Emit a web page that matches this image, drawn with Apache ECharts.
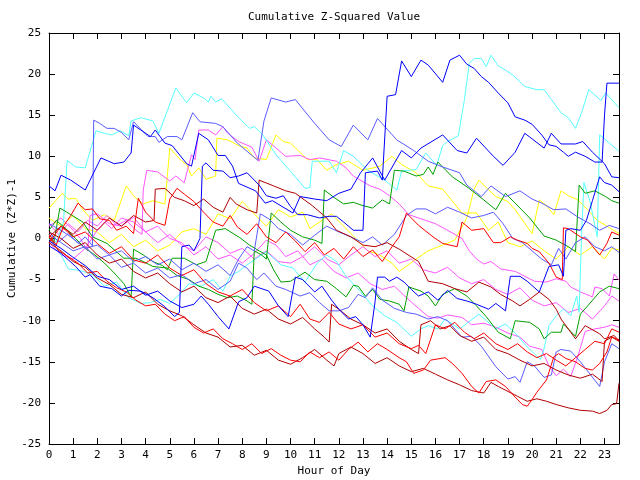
<!DOCTYPE html>
<html><head><meta charset="utf-8">
<script src="https://cdn.jsdelivr.net/npm/echarts@6/dist/echarts.min.js"></script>
<style>html,body{margin:0;padding:0;background:#fff}#c{width:640px;height:480px}</style>
</head><body><div id="c"></div>
<script>
// ---- data: [hour, cumulative (Z*Z)-1] ----
var xTicks = [0,1,2,3,4,5,6,7,8,9,10,11,12,13,14,15,16,17,18,19,20,21,22,23];
var yTicks = [-25,-20,-15,-10,-5,0,5,10,15,20,25];

var cyanA = [[0,0.5],[0.3,-0.5],[0.6,2],[0.75,9.5],[1.1,8.7],[1.5,8.6],[1.95,13.1],[2.3,12.8],[2.6,12.6],[2.95,13.1],[3.3,12.5],[3.4,14.3],[3.8,14.7],[4.3,14.3],[4.55,12.8],[5.25,18.3],[5.7,16.5],[6.0,17.7],[6.4,17.1],[6.6,16.6],[6.7,17.3],[6.9,16.6],[7.15,17.0],[7.45,16.0],[7.85,14.7],[8.3,13.4],[8.5,13.6],[8.8,12.8],[9.4,10.2],[10.05,8.0],[10.6,6.1],[10.8,6.2],[10.9,9.4],[11.6,9.4],[11.9,8.0],[12.2,10.7],[12.6,10.0],[13.2,8.3],[13.9,7.1],[14.4,5.9],[14.6,8.2],[15.2,8.4],[15.6,10.4],[16.05,8.9],[16.3,11.3],[16.5,11.8],[16.95,12.5],[17.2,16.9],[17.4,21.3],[17.6,21.9],[17.9,21.9],[18.1,20.9],[18.3,22.3],[18.6,21.0],[18.95,20.4],[19.2,19.9],[19.7,18.5],[20.2,18.1],[20.5,18.1],[20.8,16.9],[21.2,15.3],[21.5,14.7],[21.8,13.4],[22.05,15.3],[22.35,18.1],[22.85,16.8],[23.05,17.7],[23.6,15.9]];
var cyanB = [[0,0],[0.5,-2],[0.8,-3.7],[1.3,-3.9],[1.8,-4.4],[2.3,-5.8],[2.8,-5.3],[3.3,-7.2],[3.8,-7.9],[4.2,-7.8],[4.6,-7.4],[5.0,-7.9],[5.4,-6.8],[5.8,-5.5],[6.3,-5.8],[6.8,-5.0],[7.2,-6.4],[7.5,-4.6],[7.85,-4.0],[8.2,-3.2],[8.6,-2.4],[9.0,-1.6],[9.6,-3.2],[10.1,-3.6],[10.6,-5.3],[11.1,-3.0],[11.5,-2.0],[11.9,-2.8],[12.3,-4.6],[12.9,-6.5],[13.4,-8.2],[13.9,-9.4],[14.4,-10.2],[15.0,-11.9],[15.4,-11.0],[15.7,-10.6],[16.1,-11.0],[16.4,-9.8],[17.0,-11.0],[17.8,-9.2],[18.5,-11.0],[18.9,-10.4],[19.3,-11.5],[19.8,-13.2],[20.35,-14.7],[20.5,-13.4],[20.7,-10.6],[21.0,-9.4],[21.3,-8.6],[21.6,-9.4],[21.85,-7.0],[21.95,-9.0],[22.05,0.5],[22.15,6.8],[22.4,4.5],[22.7,0.2],[22.8,12.6],[23.05,12.0],[23.6,10.6]];
var blueA = [[0,6.4],[0.25,5.8],[0.5,7.7],[0.9,7.1],[1.5,5.9],[2.15,9.8],[2.7,9.1],[3.1,9.3],[3.4,10.4],[3.5,13.8],[3.8,13.2],[4.2,12.4],[4.4,13.2],[4.8,11.6],[5.1,11.3],[5.7,9.1],[5.9,8.8],[6.2,12.8],[6.6,12.0],[7.0,10.1],[7.3,10.1],[7.6,8.8],[7.85,6.7],[8.55,5.8],[8.95,4.3],[9.25,4.6],[10.1,3.1],[10.4,5.1],[11.0,4.8],[11.5,4.6],[12.0,5.5],[12.5,6.0],[12.9,8.0],[13.4,9.8],[13.9,7.1],[14.6,10.7],[15.0,9.8],[15.4,11.0],[16.3,12.6],[16.9,10.7],[17.3,10.4],[17.7,12.2],[18.4,10.0],[18.8,8.9],[19.3,10.5],[19.7,12.8],[20.5,11.0],[20.8,12.8],[21.2,11.5],[21.8,11.5],[22.1,11.8],[22.5,10.5],[23.0,9.1],[23.3,7.5],[23.6,7.4]];
var blueB = [[0,-0.9],[0.5,-1.8],[1.1,-3.4],[1.5,-4.7],[1.7,-4.4],[2.1,-5.8],[2.6,-6.1],[3.0,-7.0],[3.3,-6.3],[3.8,-6.4],[4.3,-7.2],[4.8,-8.3],[5.2,-9.5],[5.4,-9.0],[5.5,-1.0],[5.8,-0.8],[6.0,-1.5],[6.25,0.0],[6.35,8.8],[6.5,9.2],[6.8,8.3],[7.2,8.2],[7.5,7.4],[7.85,7.6],[8.2,8.0],[8.7,6.5],[9.0,5.2],[9.4,4.9],[9.7,5.2],[10.0,3.9],[10.3,2.9],[10.7,2.9],[11.2,2.5],[11.6,2.7],[11.9,2.7],[12.2,2.0],[12.6,1.0],[13.0,1.0],[13.1,8.0],[13.6,8.2],[13.8,7.1],[14.0,17.3],[14.35,17.5],[14.6,21.6],[15.0,19.7],[15.4,21.7],[15.7,21.1],[16.3,19.0],[16.6,21.7],[17.0,22.3],[17.3,21.2],[17.6,20.7],[17.9,19.7],[18.2,19.0],[18.6,17.7],[19.0,16.5],[19.3,14.8],[19.7,14.4],[20.0,13.9],[20.4,12.6],[20.7,11.4],[21.0,11.2],[21.3,10.5],[21.5,10.0],[21.8,10.5],[22.2,10.0],[22.6,9.3],[22.9,9.3],[23.0,15.0],[23.1,18.9],[23.6,18.9]];
var blueC = [[0,-0.3],[0.5,-1.2],[1.0,-2.3],[1.5,-3.3],[2.0,-4.6],[2.5,-5.0],[3.0,-6.2],[3.5,-5.8],[4.0,-6.9],[4.5,-6.4],[5.0,-7.6],[5.5,-8.4],[6.0,-8.0],[6.3,-7.0],[6.6,-8.0],[7.0,-9.5],[7.45,-11.0],[7.85,-7.7],[8.2,-7.2],[8.5,-5.8],[9.1,-6.4],[9.5,-8.2],[9.9,-9.5],[10.2,-4.7],[10.5,-5.0],[11.0,-6.5],[11.3,-5.8],[11.7,-7.5],[12.0,-8.6],[12.4,-9.8],[12.7,-9.5],[13.0,-10.5],[13.3,-12.0],[13.5,-7.7],[13.6,-4.7],[13.9,-4.7],[14.1,-5.2],[14.4,-4.7],[14.7,-5.3],[15.0,-6.2],[15.3,-7.0],[15.7,-6.5],[16.1,-7.5],[16.5,-6.3],[16.9,-7.3],[17.3,-7.6],[17.7,-8.0],[18.2,-8.6],[18.5,-7.9],[18.9,-8.8],[19.1,-4.6],[19.5,-4.6],[19.8,-5.2],[20.3,-6.5],[20.7,-3.4],[21.1,-3.2],[21.3,-4.6],[21.4,1.0],[21.6,1.2],[22.0,1.0],[22.25,2.2],[22.5,4.6],[22.8,7.5],[23.0,6.8],[23.3,6.5],[23.6,5.7]];
var mblueA = [[0,0.8],[0.4,-0.4],[0.8,0.6],[1.2,-0.6],[1.5,0.2],[1.8,-0.9],[1.85,14.4],[2.1,14.0],[2.4,13.4],[2.7,13.4],[3.0,12.9],[3.3,12.0],[3.5,14.2],[4.1,12.4],[4.4,12.4],[4.55,11.7],[4.9,12.4],[5.3,12.4],[5.5,12.0],[5.95,15.3],[6.25,14.2],[6.9,14.0],[7.2,13.6],[7.8,11.6],[8.65,9.5],[8.9,14.3],[9.2,17.1],[9.8,16.6],[10.2,16.9],[11.0,14.0],[11.6,12.0],[12.1,11.2],[12.6,13.8],[13.2,12.0],[13.6,14.6],[14.4,12.0],[15.1,10.7],[15.7,9.4],[16.3,8.7],[17.0,8.0],[17.3,6.5],[17.9,5.1],[18.3,6.4],[18.9,5.1],[19.5,5.8],[20.0,4.8],[20.4,4.3],[20.9,3.5],[21.4,3.6],[21.9,2.6],[22.4,1.8],[22.8,1.0],[23.2,1.6],[23.6,1.2]];
var mblueB = [[0,1.8],[0.5,1.0],[1.0,0.0],[1.5,-1.2],[2.0,-0.8],[2.5,-2.0],[3.0,-1.5],[3.5,-2.8],[4.0,-2.2],[4.5,-3.2],[5.0,-2.5],[5.5,-3.8],[6.0,-3.0],[6.5,-4.0],[7.0,-3.2],[7.5,-4.5],[7.85,-2.5],[8.2,-1.0],[8.5,-1.5],[8.75,3.0],[9.1,2.4],[9.5,1.2],[10.0,0.5],[10.5,-0.8],[11.0,0.4],[11.5,1.5],[12.0,0.8],[12.5,0.2],[13.0,-0.5],[13.4,0.2],[13.8,-0.8],[14.3,0.5],[14.8,2.8],[15.2,3.6],[15.6,3.6],[16.0,3.0],[16.5,3.8],[17.0,3.2],[17.5,2.5],[18.0,2.8],[18.4,3.2],[18.8,1.8],[19.2,0.0],[19.6,-0.5],[20.0,-1.5],[20.4,-2.5],[20.8,-3.2],[21.1,-1.2],[21.4,-2.5],[21.8,-0.5],[22.2,0.2],[22.6,-1.0],[23.0,-1.5],[23.3,-1.0],[23.6,-1.7]];
var mblueC = [[0,0.5],[0.5,-0.5],[1.0,-1.5],[1.5,-1.0],[2.0,-2.5],[2.5,-2.0],[3.0,-3.5],[3.5,-3.0],[4.0,-4.2],[4.5,-3.6],[5.0,-4.8],[5.5,-4.4],[6.0,-5.5],[6.5,-5.0],[7.0,-6.2],[7.5,-5.2],[7.85,-3.0],[8.2,-3.6],[8.6,-5.0],[8.9,-4.2],[9.4,-5.8],[9.8,-6.2],[10.4,-7.0],[10.8,-6.6],[11.2,-7.8],[11.6,-8.8],[12.0,-8.8],[12.4,-8.4],[12.8,-6.8],[13.1,-7.2],[13.4,-6.0],[13.8,-7.5],[14.3,-8.5],[14.8,-9.0],[15.2,-9.2],[15.7,-9.8],[16.1,-9.5],[16.5,-10.0],[17.1,-12.0],[17.5,-11.9],[17.9,-13.1],[18.5,-15.6],[19.0,-17.1],[19.3,-16.8],[19.5,-17.5],[19.8,-15.0],[20.1,-15.5],[20.5,-16.9],[20.8,-16.6],[21.0,-13.8],[21.2,-13.5],[21.6,-13.7],[22.0,-15.0],[22.4,-16.5],[22.8,-18.0],[23.0,-15.0],[23.3,-12.8],[23.6,-13.4]];
var yellowA = [[0,3.7],[0.55,5.5],[0.8,4.8],[1.1,4.9],[1.4,3.5],[1.8,2.2],[2.3,2.9],[2.7,2.2],[3.2,6.4],[3.5,5.2],[3.9,4.2],[4.3,4.6],[4.8,4.2],[5.0,11.0],[5.25,10.2],[5.5,9.4],[5.7,9.0],[5.9,7.6],[6.2,8.6],[6.5,7.2],[6.9,7.6],[6.95,12.2],[7.4,12.0],[7.85,11.3],[8.2,11.0],[8.5,9.8],[9.0,9.6],[9.4,12.6],[9.7,11.8],[10.0,11.6],[10.7,9.6],[11.1,9.6],[11.5,8.3],[11.9,9.0],[12.4,9.4],[13.0,8.3],[13.3,8.5],[13.7,8.8],[14.2,10.0],[14.6,9.0],[15.2,8.0],[15.7,6.4],[16.3,6.0],[17.1,3.1],[17.7,3.1],[18.2,1.0],[18.6,2.0],[19.0,-0.5],[19.5,-1.0],[20.0,-0.3],[20.5,-1.5],[21.0,-2.5],[21.5,-1.0],[22.0,-2.0],[22.5,-1.0],[23.0,-2.5],[23.3,-1.2],[23.6,-1.4]];
var yellowB = [[0,2.5],[0.5,1.5],[1.0,2.8],[1.5,1.2],[2.0,0.8],[2.5,-0.5],[3.0,0.5],[3.5,-1.0],[4.0,-0.2],[4.5,-1.5],[5.0,-0.8],[5.5,0.8],[6.0,1.2],[6.5,0.5],[7.0,3.0],[7.5,2.4],[8.0,4.5],[8.5,3.0],[9.0,1.5],[9.5,3.5],[10.0,2.6],[10.5,3.2],[10.8,1.2],[11.2,2.0],[11.7,3.0],[12.2,1.5],[12.7,0.0],[13.2,-1.5],[13.7,-2.0],[14.2,-3.0],[14.5,-4.0],[15.2,-2.5],[15.7,-1.5],[16.3,-0.8],[16.8,-0.2],[17.3,2.5],[17.6,6.0],[17.8,7.1],[18.1,6.2],[18.5,5.1],[19.0,4.5],[19.3,3.5],[19.9,1.0],[20.0,0.6],[20.3,4.7],[20.6,4.0],[20.9,2.9],[21.2,5.8],[21.5,5.2],[21.9,4.7],[22.3,3.5],[22.7,2.2],[23.1,1.5],[23.6,0.6]];
var magentaA = [[0,1.8],[0.4,0.5],[0.8,1.8],[1.2,0.8],[1.6,2.2],[2.0,1.5],[2.4,2.8],[2.8,1.6],[3.2,2.2],[3.6,1.0],[3.85,0.5],[3.9,5.9],[4.05,8.3],[4.5,8.1],[5.0,7.0],[5.25,7.6],[5.6,6.8],[5.9,10.2],[6.05,9.6],[6.2,13.2],[6.6,13.2],[6.9,12.6],[7.2,13.6],[7.4,12.8],[7.85,11.8],[8.4,11.1],[8.7,9.4],[9.0,12.0],[9.4,11.0],[9.8,10.0],[10.4,10.1],[10.8,9.6],[11.2,9.8],[11.9,9.4],[12.3,8.6],[12.6,7.6],[13.3,6.4],[13.7,6.0],[14.1,5.2],[14.5,4.2],[14.9,2.9],[15.6,2.2],[16.0,1.8],[16.5,1.0],[17.1,0.0],[17.4,-1.5],[17.7,-2.5],[18.0,-3.1],[18.3,-2.8],[18.7,-3.7],[19.3,-4.0],[19.7,-4.6],[20.1,-5.2],[20.6,-5.3],[21.0,-4.9],[21.4,-5.2],[21.6,-5.9],[22.0,-6.5],[22.5,-7.1],[22.6,-5.9],[22.9,-6.1],[23.2,-7.0],[23.4,-4.3],[23.6,-5.1]];
var magentaB = [[0,1.5],[0.5,2.5],[1.0,1.0],[1.3,0.0],[1.6,-1.5],[1.7,2.8],[2.0,3.0],[2.5,1.8],[3.0,1.5],[3.5,2.6],[4.0,0.8],[4.5,1.5],[5.0,0.0],[5.5,-0.5],[6.0,-2.0],[6.5,-1.0],[7.0,-2.5],[7.5,-2.0],[8.0,-3.0],[8.5,-1.8],[9.0,-0.2],[9.4,-0.8],[9.8,-2.2],[10.3,-1.5],[10.8,-3.2],[11.3,-2.5],[11.8,-4.0],[12.3,-4.8],[12.8,-4.2],[13.3,-5.5],[13.8,-6.2],[14.3,-5.8],[14.8,-7.2],[15.3,-8.5],[15.7,-9.5],[16.1,-9.7],[16.5,-9.3],[17.1,-9.6],[17.5,-10.5],[18.0,-10.3],[18.5,-10.8],[19.0,-11.5],[19.5,-12.0],[19.9,-13.1],[20.4,-13.5],[20.7,-15.5],[21.0,-16.7],[21.3,-15.9],[21.6,-16.8],[21.9,-14.3],[22.2,-11.3],[22.6,-11.0],[23.0,-10.8],[23.3,-10.5],[23.6,-10.8]];
var magentaC = [[0,-0.5],[0.5,-2.0],[1.0,-2.5],[1.5,-1.2],[2.0,1.0],[2.3,2.0],[2.6,1.2],[3.0,2.5],[3.5,2.0],[4.0,0.8],[4.5,-0.5],[5.0,0.5],[5.5,-0.8],[6.0,-1.5],[6.5,0.2],[7.0,-0.5],[7.5,-1.8],[8.0,-1.2],[8.5,-2.5],[9.0,-1.5],[9.5,-2.8],[10.0,-3.0],[10.5,-2.2],[11.0,-1.0],[11.5,-2.5],[12.0,-3.2],[12.5,-2.0],[13.0,-1.0],[13.5,-2.2],[14.0,-1.5],[14.5,-3.0],[15.0,-2.5],[15.5,-3.8],[16.0,-4.2],[16.5,-3.5],[17.0,-4.8],[17.5,-5.5],[18.0,-5.0],[18.5,-6.2],[19.0,-6.8],[19.5,-6.0],[20.0,-7.5],[20.5,-8.2],[21.0,-7.8],[21.5,-9.0],[22.0,-8.5],[22.5,-9.8],[23.0,-8.2],[23.3,-7.0],[23.6,-7.6]];
var redA = [[0,0.5],[0.3,-0.8],[0.6,1.5],[0.9,2.8],[1.2,4.3],[1.5,3.5],[1.8,3.6],[2.1,2.4],[2.5,2.2],[2.8,1.0],[3.2,1.5],[3.5,0.6],[3.7,4.9],[4.0,3.2],[4.4,2.0],[4.8,1.6],[5.0,4.8],[5.3,6.1],[5.6,5.4],[6.0,4.5],[6.4,3.2],[6.8,2.0],[7.2,1.5],[7.5,2.8],[7.8,1.4],[8.2,0.5],[8.6,1.8],[9.0,0.2],[9.4,-0.5],[9.8,0.8],[10.2,-0.3],[10.6,-1.6],[11.0,-0.5],[11.4,-2.0],[11.8,-1.2],[12.2,-2.5],[12.6,-1.0],[13.0,-2.2],[13.4,-1.4],[13.8,-2.8],[14.2,-1.0],[14.5,0.2],[14.8,3.1],[15.3,1.6],[15.9,0.2],[16.3,-0.6],[16.9,-1.0],[17.1,2.0],[17.5,1.0],[18.0,1.2],[18.4,-0.5],[18.7,-0.5],[19.1,0.2],[19.4,-0.2],[19.8,-0.6],[20.0,-1.2],[20.3,-1.6],[20.7,-3.0],[21.0,-4.7],[21.25,-5.0],[21.3,1.3],[21.5,1.2],[22.0,0.2],[22.3,-0.2],[22.8,-2.0],[23.1,-0.6],[23.3,0.8],[23.6,0.4]];
var redB = [[0,-0.5],[0.5,1.5],[1.0,0.2],[1.5,0.8],[2.0,-0.6],[2.5,-1.8],[3.0,-1.0],[3.5,-2.6],[4.0,-3.0],[4.5,-2.0],[5.0,-3.6],[5.5,-4.5],[6.0,-3.8],[6.5,-5.5],[7.0,-6.5],[7.5,-7.0],[8.0,-6.2],[8.5,-7.8],[9.0,-8.8],[9.5,-8.2],[10.0,-9.5],[10.4,-8.0],[10.8,-9.8],[11.2,-10.2],[11.6,-9.0],[12.0,-10.4],[12.5,-11.0],[13.0,-10.5],[13.5,-12.0],[14.0,-11.5],[14.5,-12.8],[15.0,-13.4],[15.3,-13.0],[15.6,-14.0],[16.0,-10.5],[16.4,-11.0],[16.8,-10.2],[17.2,-11.4],[17.6,-12.2],[18.0,-11.5],[18.5,-12.8],[19.0,-13.5],[19.4,-12.8],[19.8,-13.8],[20.2,-14.5],[20.6,-14.0],[21.0,-14.8],[21.4,-15.5],[21.8,-14.5],[22.2,-13.5],[22.6,-12.5],[23.0,-12.8],[23.3,-11.0],[23.6,-11.4]];
var redC = [[0,0.2],[0.4,-1.5],[0.8,-2.2],[1.2,-3.0],[1.6,-4.2],[2.0,-4.0],[2.4,-5.2],[2.8,-6.0],[3.2,-6.5],[3.6,-7.5],[4.0,-8.2],[4.4,-8.0],[4.8,-9.2],[5.2,-10.0],[5.6,-9.5],[6.0,-10.8],[6.4,-11.5],[6.8,-11.0],[7.2,-12.2],[7.6,-12.8],[8.0,-13.5],[8.4,-12.8],[8.8,-14.0],[9.2,-13.4],[9.6,-14.2],[10.0,-14.8],[10.4,-15.0],[10.8,-13.8],[11.2,-14.5],[11.6,-13.8],[12.0,-14.8],[12.4,-13.5],[12.8,-12.6],[13.2,-13.8],[13.6,-12.8],[14.0,-13.5],[14.5,-14.5],[14.8,-15.0],[15.1,-16.4],[15.5,-16.0],[15.8,-14.8],[16.4,-14.5],[16.7,-15.2],[17.1,-16.4],[17.5,-18.0],[17.8,-18.8],[18.1,-17.4],[18.5,-17.2],[18.9,-18.0],[19.3,-19.3],[19.6,-20.2],[19.8,-20.4],[20.0,-19.6],[20.2,-18.7],[20.6,-17.2],[20.9,-14.4],[21.1,-14.0],[21.4,-14.6],[21.8,-15.0],[22.2,-15.8],[22.5,-16.0],[22.8,-15.2],[23.1,-13.8],[23.3,-12.0],[23.6,-12.3]];
var darkredA = [[0,-0.5],[0.5,-1.5],[1.0,-2.8],[1.5,-3.5],[2.0,-4.8],[2.5,-5.6],[3.0,-6.8],[3.5,-7.2],[4.0,-6.5],[4.5,-8.0],[5.0,-8.8],[5.5,-9.4],[6.0,-10.5],[6.5,-11.5],[7.0,-12.0],[7.5,-13.2],[8.0,-13.0],[8.5,-14.2],[9.0,-13.6],[9.5,-14.8],[10.0,-15.3],[10.5,-14.5],[11.0,-13.5],[11.5,-14.8],[11.8,-15.5],[12.0,-14.0],[12.5,-13.2],[13.0,-14.0],[13.5,-15.2],[14.0,-14.5],[14.5,-15.5],[15.0,-16.2],[15.5,-15.8],[16.0,-16.5],[16.5,-17.2],[17.0,-17.8],[17.5,-18.5],[18.0,-18.8],[18.3,-17.5],[18.6,-18.0],[19.0,-18.6],[19.4,-19.2],[19.8,-19.8],[20.2,-19.5],[20.6,-19.8],[21.0,-20.2],[21.5,-20.6],[22.0,-20.9],[22.5,-21.0],[22.8,-21.3],[23.1,-20.9],[23.3,-20.2],[23.5,-20.1],[23.6,-17.6]];
var darkredB = [[0,0.8],[0.5,0.0],[1.0,-1.2],[1.5,-0.5],[2.0,-2.0],[2.5,-3.0],[3.0,-2.5],[3.5,-4.0],[4.0,-4.8],[4.5,-4.2],[5.0,-5.5],[5.5,-6.5],[6.0,-5.8],[6.5,-7.2],[7.0,-7.8],[7.5,-7.0],[8.0,-8.5],[8.5,-9.2],[9.0,-8.6],[9.5,-9.8],[10.0,-10.4],[10.5,-9.6],[11.0,-11.0],[11.4,-12.0],[11.6,-12.6],[11.7,-8.0],[12.0,-8.6],[12.5,-9.8],[13.0,-10.5],[13.5,-11.5],[14.0,-11.0],[14.5,-12.5],[15.0,-13.5],[15.3,-14.0],[15.4,-10.5],[15.8,-10.0],[16.2,-11.0],[16.6,-10.6],[17.0,-11.8],[17.5,-12.5],[18.0,-12.0],[18.5,-13.5],[19.0,-14.0],[19.5,-14.8],[20.0,-15.5],[20.5,-15.2],[21.0,-16.0],[21.5,-16.6],[22.0,-17.0],[22.5,-16.5],[22.9,-17.4],[23.0,-12.5],[23.3,-12.0],[23.6,-12.5]];
var darkredC = [[0,0.2],[0.5,1.5],[1.0,0.5],[1.5,2.0],[2.0,1.0],[2.5,2.5],[3.0,1.5],[3.5,2.8],[4.0,2.0],[4.35,2.2],[4.4,6.0],[4.8,6.1],[5.2,5.0],[5.6,4.6],[6.0,4.0],[6.4,4.8],[6.8,3.8],[7.2,3.2],[7.5,5.0],[7.75,4.2],[8.2,3.5],[8.6,3.1],[8.7,7.1],[9.3,6.4],[9.8,5.8],[10.2,5.5],[10.9,4.0],[11.5,2.5],[11.9,1.0],[12.5,0.2],[13.0,-0.8],[13.5,-1.0],[14.0,-0.5],[14.5,-1.3],[15.3,-2.8],[15.7,-5.2],[16.3,-5.5],[16.8,-6.1],[17.3,-6.5],[17.8,-5.3],[18.3,-5.9],[18.7,-6.8],[19.2,-7.6],[19.5,-8.2],[19.9,-7.4],[20.3,-6.5],[20.7,-7.4],[21.0,-8.6],[21.2,-9.8],[21.6,-11.4],[21.8,-12.2],[22.2,-10.6],[22.8,-11.6],[23.0,-12.2],[23.4,-11.8],[23.6,-12.5]];
var greenA = [[0,0.2],[0.2,-0.5],[0.45,3.7],[0.85,3.0],[1.4,2.0],[1.8,0.2],[2.4,-0.6],[3.1,-2.4],[3.6,-2.4],[3.9,-2.8],[4.3,-3.4],[4.9,-3.6],[5.3,-4.5],[5.8,-5.0],[6.2,-5.8],[6.6,-6.2],[7.0,-6.8],[7.4,-7.2],[7.8,-7.0],[8.2,-7.6],[8.4,-8.0],[8.5,-1.5],[8.8,-2.0],[9.0,-2.5],[9.2,3.1],[9.6,2.0],[10.0,1.0],[10.5,0.2],[11.0,-0.2],[11.3,-0.6],[11.4,5.9],[11.8,5.0],[12.2,4.2],[12.6,4.4],[13.0,4.0],[13.4,3.7],[13.8,4.7],[14.1,4.2],[14.3,8.3],[14.7,8.2],[15.2,7.6],[15.5,7.8],[15.7,8.7],[15.9,7.8],[16.1,9.3],[16.3,8.7],[16.7,7.5],[17.3,6.3],[18.0,4.7],[18.5,3.5],[18.9,5.5],[19.3,4.3],[19.9,2.5],[20.5,0.3],[21.0,-0.2],[21.5,-1.0],[21.8,-1.6],[21.95,6.5],[22.2,5.5],[22.6,5.8],[23.05,5.1],[23.3,4.6],[23.6,4.3]];
var greenB = [[0,1.0],[0.3,2.2],[0.7,1.2],[1.1,0.0],[1.5,-1.2],[1.9,-2.0],[2.3,-3.0],[2.7,-4.2],[3.1,-5.5],[3.4,-7.1],[3.5,-1.3],[3.9,-2.0],[4.3,-2.8],[4.7,-3.3],[4.9,-3.8],[5.1,-2.4],[5.6,-2.4],[6.1,-3.2],[6.5,-2.8],[6.9,1.0],[7.3,1.2],[7.9,0.1],[8.3,-0.8],[8.7,-1.5],[9.0,-2.0],[9.3,-3.8],[9.6,-5.3],[10.0,-5.2],[10.6,-4.1],[11.0,-5.0],[11.5,-5.2],[11.9,-6.1],[12.3,-7.1],[12.6,-5.7],[12.8,-5.8],[13.1,-7.0],[13.4,-6.2],[13.7,-7.4],[14.1,-7.6],[14.5,-8.0],[14.7,-8.8],[14.9,-5.9],[15.4,-6.4],[15.7,-7.0],[16.0,-8.2],[16.3,-6.8],[16.8,-6.1],[17.3,-7.0],[17.7,-8.2],[18.1,-9.5],[18.6,-11.4],[19.1,-12.2],[19.3,-10.0],[19.9,-10.2],[20.3,-11.0],[20.5,-12.2],[20.8,-11.4],[21.2,-11.4],[21.3,-10.4],[21.8,-11.9],[22.0,-9.2],[22.3,-8.2],[22.8,-6.5],[23.2,-5.8],[23.6,-6.1]];

var C_BLUE='#0000ff', C_MBLUE='#5a5aff', C_CYAN='#55ffff', C_YELLOW='#ffff00', C_MAG='#ff55ff', C_RED='#ff0000', C_DRED='#b00000', C_GREEN='#00a000';
var seriesDefs = [
  [yellowA,C_YELLOW],[yellowB,C_YELLOW],[magentaA,C_MAG],[magentaB,C_MAG],[magentaC,C_MAG],
  [cyanA,C_CYAN],[cyanB,C_CYAN],[greenA,C_GREEN],[greenB,C_GREEN],
  [mblueA,C_MBLUE],[mblueB,C_MBLUE],[mblueC,C_MBLUE],
  [darkredA,C_DRED],[darkredB,C_DRED],[darkredC,C_DRED],[redA,C_RED],[redB,C_RED],[redC,C_RED],
  [blueA,C_BLUE],[blueB,C_BLUE],[blueC,C_BLUE]
];

var FONT = 'DejaVu Sans Mono';
var chart = echarts.init(document.getElementById('c'), null, {renderer:'canvas'});
var axisCommon = {
  min: 0, max: 23.6, interval: 1, type: 'value',
  axisLine: {show:true, onZero:false, lineStyle:{color:'#000', width:1}},
  axisTick: {show:true, inside:true, length:6, lineStyle:{color:'#000'}},
  splitLine: {show:false}
};
chart.setOption({
  animation: false,
  backgroundColor: '#fff',
  grid: {left:49, top:33, right:21, bottom:36, show:false, containLabel:false, outerBoundsMode:'none'},
  xAxis: [
    Object.assign({}, axisCommon, {
      position:'bottom',
      name:'Hour of Day', nameLocation:'middle', nameGap:21,
      nameTextStyle:{fontFamily:FONT, fontSize:11, color:'#000'},
      axisLabel:{show:true, margin:6, fontFamily:FONT, fontSize:11, color:'#000',
        formatter:function(v){ return xTicks.indexOf(v) >= 0 ? String(v) : ''; }, showMaxLabel:false}
    }),
    Object.assign({}, axisCommon, {
      position:'top',
      name:'Cumulative Z-Squared Value', nameLocation:'middle', nameGap:10,
      nameTextStyle:{fontFamily:FONT, fontSize:11, color:'#000'},
      axisLabel:{show:false}
    })
  ],
  yAxis: [
    {type:'value', min:-25, max:25, interval:5, position:'left',
     name:'Cumulative (Z*Z)-1', nameLocation:'middle', nameGap:31, nameRotate:90, nameMoveOverlap:false,
     nameTextStyle:{fontFamily:FONT, fontSize:11, color:'#000'},
     axisLine:{show:true, onZero:false, lineStyle:{color:'#000'}},
     axisTick:{show:true, inside:true, length:6, lineStyle:{color:'#000'}},
     axisLabel:{show:true, margin:8, fontFamily:FONT, fontSize:11, color:'#000',
       formatter:function(v){ return yTicks.indexOf(v) >= 0 ? String(v) : ''; }},
     splitLine:{show:false}},
    {type:'value', min:-25, max:25, interval:5, position:'right',
     axisLine:{show:true, onZero:false, lineStyle:{color:'#000'}},
     axisTick:{show:true, inside:true, length:6, lineStyle:{color:'#000'}},
     axisLabel:{show:false}, splitLine:{show:false}}
  ],
  series: seriesDefs.map(function(d){
    return {type:'line', data:d[0], xAxisIndex:0, yAxisIndex:0, showSymbol:false, symbol:'none',
      lineStyle:{color:d[1], width:1}, itemStyle:{color:d[1]}, silent:true, clip:true};
  })
});
</script>
</body></html>
